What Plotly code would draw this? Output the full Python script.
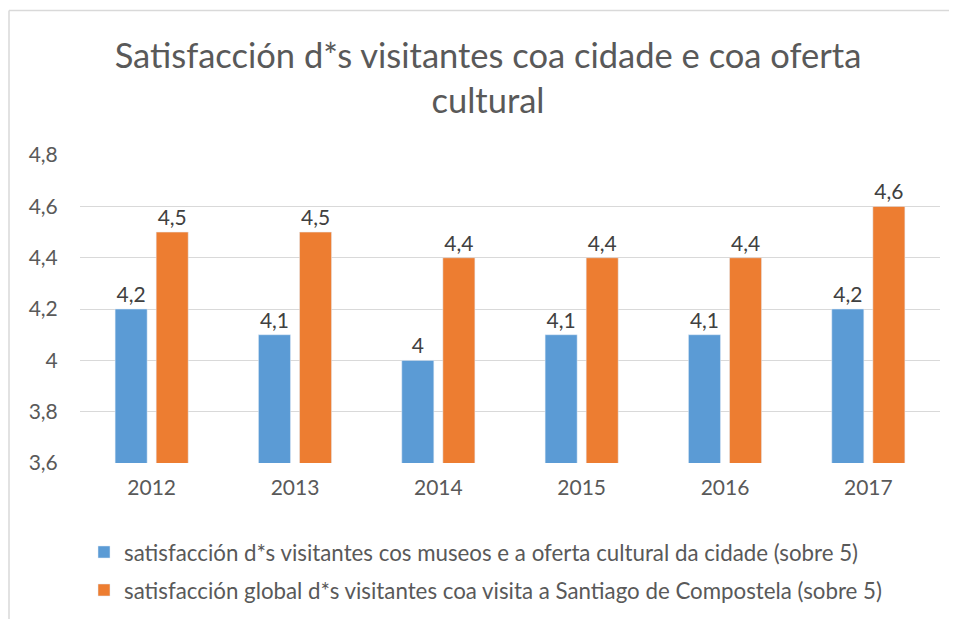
import plotly.graph_objects as go

years = ["2012", "2013", "2014", "2015", "2016", "2017"]
museos = [4.2, 4.1, 4.0, 4.1, 4.1, 4.2]
global_sat = [4.5, 4.5, 4.4, 4.4, 4.4, 4.6]
name_museos = "satisfacción d*s visitantes cos museos e a oferta cultural da cidade (sobre 5)"
name_global = "satisfacción global d*s visitantes coa visita a Santiago de Compostela (sobre 5)"
title_text = "Satisfacción d*s visitantes coa cidade e coa oferta<br>cultural"
y_ticks = [3.6, 3.8, 4.0, 4.2, 4.4, 4.6, 4.8]

BLUE = "#5B9BD5"
ORANGE = "#ED7D31"
TXT = "#595959"
FONT = "Lato, Open Sans, sans-serif"

def fmt(v):
    return f"{v:g}".replace(".", ",")

fig = go.Figure()
fig.add_trace(go.Bar(x=years, y=museos, name=name_museos, marker_color=BLUE,
                     legendgroup="a",
                     text=[fmt(v) for v in museos], textposition="outside",
                     cliponaxis=False, constraintext="none",
                     textfont=dict(family=FONT, size=21, color="#404040")))
fig.add_trace(go.Bar(x=years, y=global_sat, name=name_global, marker_color=ORANGE,
                     legendgroup="b",
                     text=[fmt(v) for v in global_sat], textposition="outside",
                     cliponaxis=False, constraintext="none",
                     textfont=dict(family=FONT, size=21, color="#404040")))

W, H = 957, 619
ml, mr, mt, mb = 72, 25, 147, 164
pw = W - ml - mr
ph = H - mt - mb

def px2x(px):
    return (px - ml) / pw

def py2y(py):
    return (H - mb - py) / ph

shapes = [
    dict(type="line", xref="paper", yref="paper", x0=px2x(1), x1=px2x(958),
         y0=py2y(2.5), y1=py2y(2.5), line=dict(color="#D9D9D9", width=1.5)),
    dict(type="line", xref="paper", yref="paper", x0=px2x(1), x1=px2x(1),
         y0=py2y(2.5), y1=py2y(620), line=dict(color="#D9D9D9", width=1.5)),
]

fig.update_layout(
    width=W, height=H,
    margin=dict(l=ml, r=mr, t=mt, b=mb),
    paper_bgcolor="white", plot_bgcolor="white",
    barmode="group", bargap=0.427, bargroupgap=0.22,
    font=dict(family=FONT, color=TXT, size=21),
    title=dict(text=title_text, x=480 / W, xref="container", xanchor="center",
               y=1 - 60 / H, yanchor="middle",
               font=dict(family=FONT, size=34.5, color=TXT)),
    xaxis=dict(type="category", range=[-0.5, len(years) - 0.5],
               showgrid=False, showline=False, automargin=False,
               ticks="outside", ticklen=6, tickcolor="rgba(0,0,0,0)",
               tickfont=dict(size=21, color=TXT)),
    yaxis=dict(range=[3.6, 4.8005], showgrid=True, automargin=False,
               gridcolor="#D9D9D9", gridwidth=1, zeroline=False, showline=False,
               ticks="outside", ticklen=17, tickcolor="rgba(0,0,0,0)",
               tickfont=dict(size=21, color=TXT),
               tickvals=y_ticks, ticktext=[fmt(v) for v in y_ticks]),
    legend=dict(orientation="v", x=4 / pw, xanchor="left", y=py2y(523), yanchor="top",
                font=dict(size=22.3, color=TXT), tracegroupgap=6),
    shapes=shapes,
)

fig.write_html("out.html")
